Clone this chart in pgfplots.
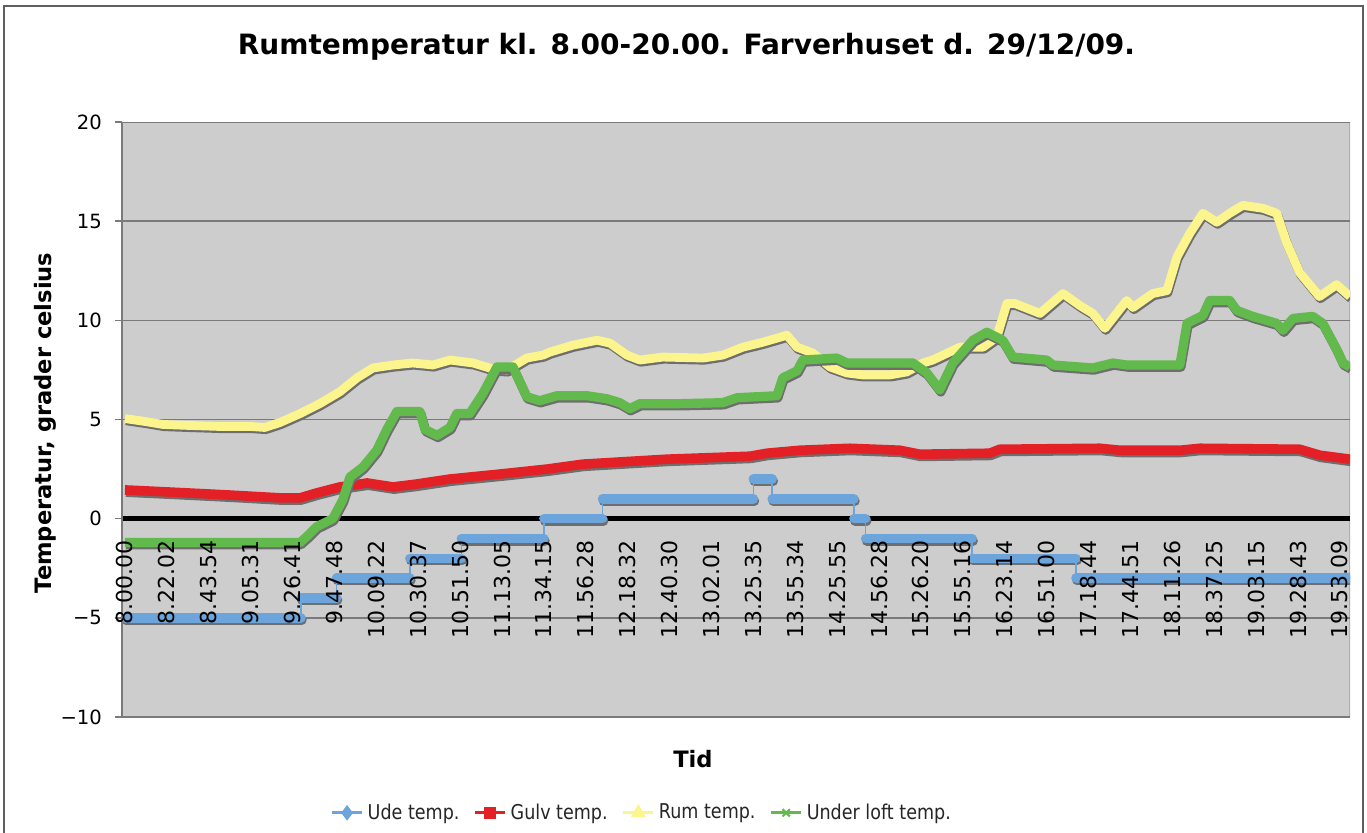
\documentclass[border=0pt]{standalone}
\usepackage{fontspec}
\setmainfont{DejaVu Sans}
\newfontfamily\legfont[FakeStretch=0.86]{DejaVu Sans}
\usepackage{pgfplots}
\pgfplotsset{compat=1.18}
\usepackage{pgfplotstable}

\definecolor{udeblue}{RGB}{108,164,220}
\definecolor{gulvred}{RGB}{226,32,38}
\definecolor{rumyellow}{RGB}{252,244,140}
\definecolor{loftgreen}{RGB}{98,186,76}
\definecolor{plotbg}{RGB}{205,205,205}
\definecolor{gridc}{RGB}{122,122,122}
\definecolor{framec}{RGB}{95,95,95}
\definecolor{shadowc}{RGB}{110,110,110}

% x = position on the category axis (0 = 8.00.00, 29 = 19.53.09)
\pgfplotstableread{
x y
0 5.05
0.48 4.9
0.91 4.75
1.55 4.7
2.27 4.65
2.98 4.65
3.34 4.6
3.70 4.85
4.18 5.3
4.65 5.8
5.13 6.4
5.54 7.1
5.92 7.6
6.40 7.75
6.87 7.85
7.35 7.75
7.76 8.0
8.31 7.85
8.78 7.55
9.12 7.5
9.59 8.1
9.98 8.25
10.14 8.4
10.69 8.75
11.27 9.0
11.58 8.85
11.98 8.25
12.29 8.0
12.84 8.15
13.80 8.1
14.27 8.25
14.75 8.65
15.23 8.9
15.80 9.25
16.04 8.65
16.42 8.35
16.83 7.65
17.23 7.35
17.61 7.25
18.26 7.25
18.66 7.4
19.05 7.85
19.28 8.0
19.93 8.65
20.48 8.65
20.81 9.15
21.05 10.85
21.24 10.85
21.84 10.35
22.39 11.35
22.79 10.75
23.10 10.35
23.39 9.6
23.91 11.0
24.06 10.65
24.53 11.35
24.87 11.5
25.11 13.2
25.42 14.4
25.73 15.4
26.06 14.95
26.37 15.4
26.68 15.8
27.16 15.65
27.49 15.4
27.73 13.9
28.04 12.4
28.51 11.2
28.92 11.8
29.24 11.2
}\rumtable

\pgfplotstableread{
x y
0 -1.2
4.18 -1.2
4.34 -0.9
4.58 -0.4
4.96 0.0
5.20 0.95
5.37 2.1
5.68 2.6
6.01 3.45
6.25 4.5
6.49 5.4
7.04 5.4
7.16 4.5
7.45 4.2
7.76 4.6
7.92 5.3
8.23 5.3
8.54 6.3
8.88 7.65
9.26 7.65
9.48 6.65
9.59 6.15
9.90 5.95
10.31 6.2
11.03 6.2
11.50 6.05
11.81 5.85
12.05 5.55
12.29 5.8
13.25 5.8
14.27 5.85
14.61 6.1
15.56 6.2
15.70 7.1
16.04 7.45
16.18 8.0
16.99 8.1
17.23 7.85
18.81 7.85
19.14 7.35
19.45 6.5
19.76 7.85
20.24 9.0
20.57 9.4
20.95 9.0
21.19 8.15
22.00 8.0
22.15 7.75
23.10 7.6
23.58 7.85
23.91 7.75
25.18 7.75
25.35 9.85
25.73 10.25
25.89 11.0
26.37 11.0
26.54 10.5
26.92 10.2
27.49 9.85
27.64 9.5
27.88 10.1
28.35 10.2
28.59 9.85
28.93 8.5
29.07 7.85
29.24 7.65
}\lofttable

\pgfplotstableread{
x y
0 1.45
1.00 1.35
2.43 1.2
3.70 1.05
4.18 1.05
4.58 1.3
5.13 1.6
5.78 1.8
6.40 1.6
6.97 1.75
7.76 2.0
8.95 2.25
10.07 2.5
10.93 2.75
12.94 3.0
14.92 3.15
15.32 3.3
16.11 3.45
17.30 3.55
18.50 3.45
18.97 3.25
20.64 3.3
20.88 3.5
23.27 3.55
23.75 3.45
25.18 3.45
25.66 3.55
28.04 3.5
28.52 3.2
29.24 3.0
}\gulvtable

% Ude temp.: steps, one segment per level
\pgfplotstableread{
x y
0 -5
4.20 -5
nan nan
4.20 -4
5.05 -4
nan nan
5.05 -3
6.80 -3
nan nan
6.80 -2
8.03 -2
nan nan
8.03 -1
10.00 -1
nan nan
10.00 0
11.40 0
nan nan
11.40 1
15.00 1
nan nan
15.00 2
15.45 2
nan nan
15.45 1
17.40 1
nan nan
17.40 0
17.68 0
nan nan
17.68 -1
20.22 -1
nan nan
20.22 -2
22.70 -2
nan nan
22.70 -3
29.24 -3
}\udetable

\pgfplotstableread{
x y
0 -5
4.20 -4
5.05 -3
6.80 -2
8.03 -1
10.00 0
11.40 1
15.00 2
15.45 1
17.40 0
17.68 -1
20.22 -2
22.70 -3
29.24 -3
}\udesteps

\begin{document}
\begin{tikzpicture}
\useasboundingbox (0,0) rectangle (683.5pt,-416pt);
\fill[white] (0,0) rectangle (683.5pt,-416pt);
\draw[framec, line width=1.4pt] (2pt,-430pt) -- (2pt,-3pt) -- (681.5pt,-3pt) -- (681.5pt,-430pt);

\node[font=\bfseries\fontsize{14}{16}\selectfont] at (343.25pt,-23.5pt)
  {Rumtemperatur kl. 8.00-20.00. Farverhuset d. 29/12/09.};
\node[rotate=90, font=\bfseries\fontsize{11.3}{13}\selectfont] at (22.5pt,-211.5pt)
  {Temperatur, grader celsius};
\node[font=\bfseries\fontsize{11.3}{13}\selectfont] at (346.5pt,-379.5pt) {Tid};

\begin{axis}[
  at={(61pt,-358.5pt)}, anchor=south west,
  width=614pt, height=297.5pt, scale only axis,
  xmin=-0.07, xmax=29.24, ymin=-10, ymax=20,
  axis on top,
  axis x line*=middle, axis y line*=left,
  x axis line style={draw=none},
  y axis line style={gridc, line width=0.8pt},
  axis background/.style={fill=plotbg},
  hide obscured x ticks=false, hide obscured y ticks=false,
  ytick={-10,-5,...,20},
  yticklabels={{\char"2212 10},{\char"2212 5},0,5,10,15,20},
  xtick={0,...,29},
  xticklabels={8.00.00,8.22.02,8.43.54,9.05.31,9.26.41,9.47.48,10.09.22,10.30.37,10.51.50,11.13.05,11.34.15,11.56.28,12.18.32,12.40.30,13.02.01,13.25.35,13.55.34,14.25.55,14.56.28,15.26.20,15.55.16,16.23.14,16.51.00,17.18.44,17.44.51,18.11.26,18.37.25,19.03.15,19.28.43,19.53.09},
  xtick style={draw=none},
  ytick style={gridc, line width=0.7pt},
  tick align=outside, major tick length=3.5pt,
  yticklabel style={font=\fontsize{9.8}{11}\selectfont, text=black},
  xticklabel style={font=\fontsize{11}{12}\selectfont, text=black, rotate=90, anchor=east},
  xticklabel shift=4pt,
  yticklabel shift=3pt,
  unbounded coords=jump,
  legend style={at={(0.424,-0.161)}, anchor=center, draw=none, fill=none,
    font=\legfont\fontsize{10.2}{12}\selectfont, text=black!85,
    /tikz/every even column/.append style={column sep=5pt}},
  legend columns=-1,
  legend image code/.code={\draw[mark repeat=2,mark phase=2,#1] plot coordinates {(0pt,0pt) (7.5pt,0pt) (15pt,0pt)};},
]
\addlegendimage{udeblue, line width=1.6pt, mark=diamond*, mark size=2.6pt}
\addlegendentry{Ude temp.}
\addlegendimage{gulvred, line width=1.6pt, mark=square*, mark size=2.3pt}
\addlegendentry{Gulv temp.}
\addlegendimage{rumyellow, line width=1.6pt, mark=triangle*, mark size=2.8pt}
\addlegendentry{Rum temp.}
\addlegendimage{loftgreen, line width=1.6pt, mark=x, mark size=2.6pt, mark options={line width=1pt}}
\addlegendentry{Under loft temp.}

% plot-area border and grid lines (below the series)
\addplot[gridc!60, line width=0.6pt, forget plot] coordinates {(29.24,-10) (29.24,20)};
\addplot[gridc, line width=0.75pt, forget plot] coordinates {(-0.07,20) (29.24,20)};
\addplot[gridc, line width=0.75pt, forget plot] coordinates {(-0.07,15) (29.24,15)};
\addplot[gridc, line width=0.75pt, forget plot] coordinates {(-0.07,10) (29.24,10)};
\addplot[gridc, line width=0.75pt, forget plot] coordinates {(-0.07,5) (29.24,5)};
\addplot[gridc, line width=0.75pt, forget plot] coordinates {(-0.07,-5) (29.24,-5)};
\addplot[gridc, line width=0.75pt, forget plot] coordinates {(-0.07,-10) (29.24,-10)};
% zero line
\addplot[black, line width=2.6pt, forget plot] coordinates {(-0.07,0) (29.24,0)};

% Ude temp.
\addplot[shadowc, line width=4.8pt, line cap=round, xshift=0.5pt, yshift=-1.1pt, forget plot] table[x=x,y=y] {\udetable};
\addplot[udeblue, line width=0.8pt, const plot, forget plot] table[x=x,y=y] {\udesteps};
\addplot[udeblue, line width=4.8pt, line cap=round, forget plot] table[x=x,y=y] {\udetable};

% Gulv temp.
\addplot[shadowc, line width=4.8pt, line join=round, xshift=0.5pt, yshift=-1.1pt, forget plot] table[x=x,y=y] {\gulvtable};
\addplot[gulvred, line width=4.8pt, line join=round, forget plot] table[x=x,y=y] {\gulvtable};

% Rum temp.
\addplot[shadowc, line width=4.4pt, line join=round, xshift=0.5pt, yshift=-1.1pt, forget plot] table[x=x,y=y] {\rumtable};
\addplot[rumyellow, line width=4.4pt, line join=round, forget plot] table[x=x,y=y] {\rumtable};

% Under loft temp.
\addplot[shadowc, line width=4.6pt, line join=round, xshift=0.5pt, yshift=-1.1pt, forget plot] table[x=x,y=y] {\lofttable};
\addplot[loftgreen, line width=4.6pt, line join=round, forget plot] table[x=x,y=y] {\lofttable};
\end{axis}
\end{tikzpicture}
\end{document}
